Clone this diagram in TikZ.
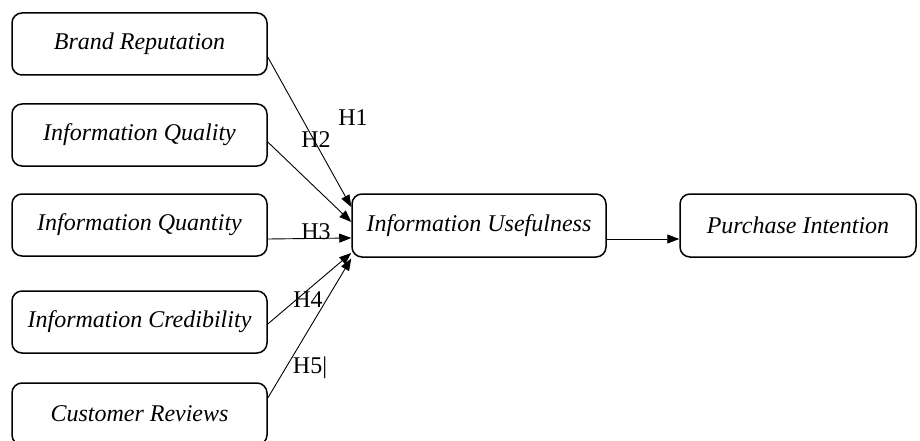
\documentclass[tikz,border=0pt]{standalone}
\usepackage{fontspec}
\setmainfont{Liberation Serif}
\usetikzlibrary{arrows.meta}

\tikzset{
	factor/.style={draw, line width=1.5pt, rounded corners=10pt, minimum width=255pt, minimum height=62pt, inner sep=0pt, font=\fontsize{24}{28}\selectfont\itshape},
	hyp/.style={-{Triangle[length=12pt,width=9pt]}, line width=0.9pt},
	hlabel/.style={inner sep=0pt, font=\fontsize{24}{28}\selectfont}
}

\begin{document}
\begin{tikzpicture}[x=1pt,y=-1pt]
	\useasboundingbox (0,0) rectangle (920,441);

	\node[factor] (br) at (139.5,44) {Brand Reputation};
	\node[factor] (iql) at (139.5,135) {Information Quality};
	\node[factor] (iqn) at (139.5,225) {Information Quantity};
	\node[factor] (icr) at (139.5,322) {Information Credibility};
	\node[factor] (cr) at (139.5,414) {Customer Reviews};

	\node[factor, minimum width=254pt, minimum height=63pt] (use) at (479,225.5) {Information Usefulness};
	\node[factor, minimum width=236pt, minimum height=63pt] (pi) at (798,225.5) {Purchase Intention};

	\draw[hyp] ([yshift=-13pt]br.east) -- ([yshift=18.5pt]use.west);
	\draw[hyp] ([yshift=-7pt]iql.east) -- ([yshift=3.5pt]use.west);
	\draw[hyp] ([yshift=-14pt]iqn.east) -- ([yshift=-12.5pt]use.west);
	\draw[hyp] ([yshift=-2pt]icr.east) -- ([yshift=-27.5pt]use.west);
	\draw[hyp] ([yshift=16pt]cr.east) -- ([yshift=-33pt]use.west);

	\draw[hyp] ([yshift=-13.5pt]use.east) -- ([yshift=-13.5pt]pi.west);

	\node[hlabel] (h1) at (353,118) {H1};
	\node[hlabel] (h2) at (316,140) {H2};
	\node[hlabel] (h3) at (316,232) {H3};
	\node[hlabel] (h4) at (308,300) {H4};
	\node[hlabel] (h5) at (310,368) {H5|};
\end{tikzpicture}
\end{document}
